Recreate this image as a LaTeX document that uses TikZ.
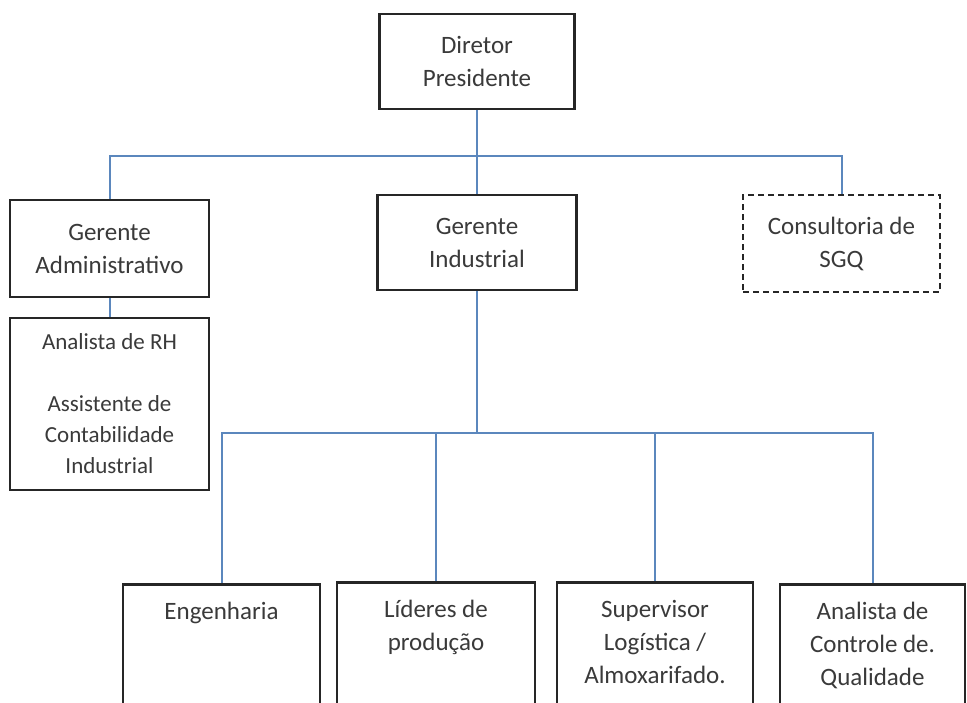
\documentclass[tikz,border=0pt]{standalone}
\usepackage{fontspec}
\setmainfont{Carlito}
\definecolor{boxline}{HTML}{262626}
\definecolor{linkblue}{HTML}{5B87BD}
\definecolor{txt}{HTML}{3A3A3A}

\begin{document}
\begin{tikzpicture}[x=1pt,y=-1pt,
  box/.style={draw=boxline,line width=2.5pt,fill=white,align=center,inner sep=0pt,text=txt,font=\fontsize{25}{33}\selectfont},
  dashbox/.style={box,dash pattern=on 6pt off 4pt},
  low/.style={box,anchor=north,inner xsep=0pt,inner ysep=18pt},
  link/.style={draw=linkblue,line width=2pt}]
\fill[white] (0,0) rectangle (967,702);
\useasboundingbox (0,0) rectangle (967,702);
\clip (0,0) rectangle (967,702);
\node[box,minimum width=195,minimum height=95] (dir) at (477,61.5) {Diretor\\Presidente};
\node[box,minimum width=199,minimum height=97] (ga) at (109.5,248.5) {Gerente\\Administrativo};
\node[box,minimum width=199,minimum height=95] (gi) at (477,242.5) {Gerente\\Industrial};
\node[dashbox,minimum width=197,minimum height=97] (cs) at (841.5,243.5) {Consultoria de\\SGQ};
\node[box,minimum width=199,minimum height=172,font=\fontsize{23}{31}\selectfont] (rh) at (109.5,404) {Analista de RH\\[31pt]Assistente de\\Contabilidade\\Industrial};
\node[low] (eng) at (221.5,583) {\parbox[t][120pt][t]{197pt}{\centering Engenharia}};
\node[low] (lid) at (436,581) {\parbox[t][120pt][t]{198pt}{\centering Líderes de\\produção}};
\node[low] (sup) at (655,581) {\parbox[t][120pt][t]{196pt}{\centering Supervisor\\Logística /\\Almoxarifado.}};
\node[low] (cq) at (872.5,583) {\parbox[t][120pt][t]{185pt}{\centering Analista de\\Controle de.\\Qualidade}};
\coordinate (bus1) at (477,156);
\coordinate (bus2) at (477,433);
\draw[link] (dir.south) -- (gi.north);
\draw[link] (ga.north) |- (bus1) -| (cs.north);
\draw[link] (ga.south) -- (rh.north);
\draw[link] (gi.south) -- (bus2);
\draw[link] (eng.north) |- (bus2) -| (cq.north);
\draw[link] (lid.north) |- (bus2);
\draw[link] (sup.north) |- (bus2);
\end{tikzpicture}
\end{document}
